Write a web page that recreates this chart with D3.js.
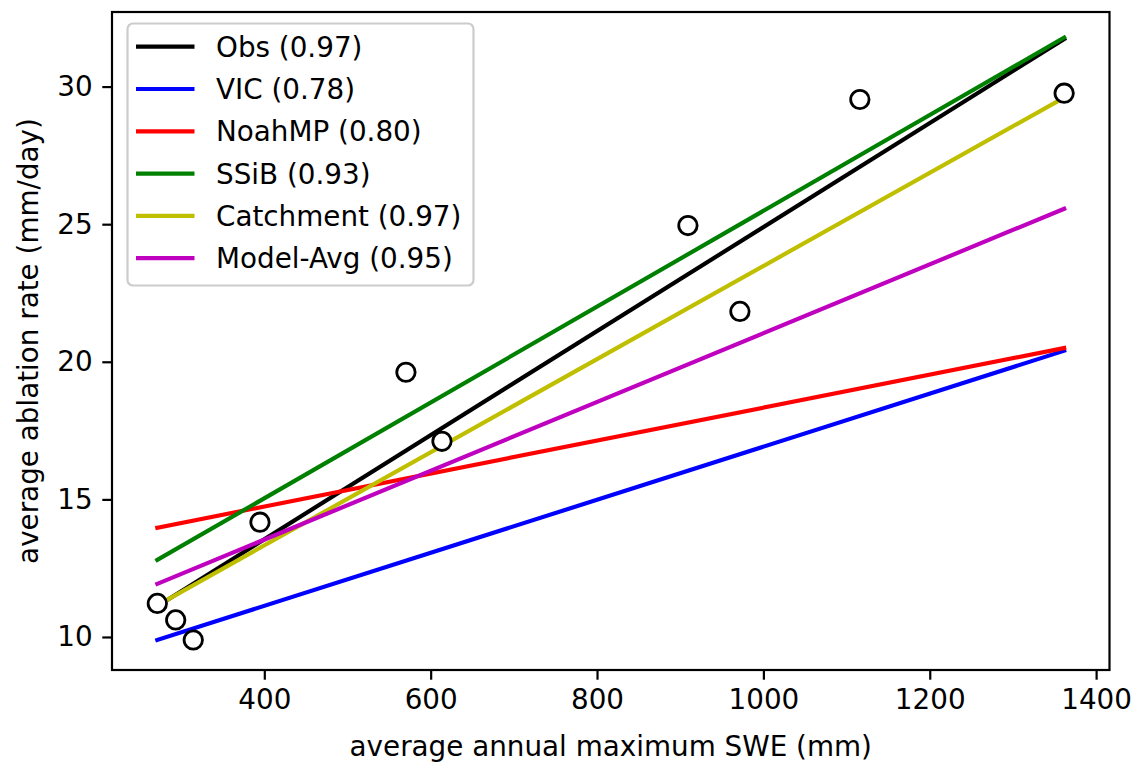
<!DOCTYPE html>
<html>
<head>
<meta charset="utf-8">
<script src="https://cdn.jsdelivr.net/npm/d3@7"></script>
<style>
  html, body { margin: 0; padding: 0; background: #fff; }
  svg { display: block; font-family: "DejaVu Sans", sans-serif; }
</style>
</head>
<body>
<svg id="chart" width="1136" height="768"></svg>
<script>
// ---- data ----
const swe = [271.4, 293.5, 314.6, 394.8, 570.3, 613.6, 909.3, 971.8, 1116, 1361.6];
const ablation = [11.22, 10.62, 9.89, 14.17, 19.62, 17.11, 24.95, 21.83, 29.53, 29.76];

const seriesNames = ["Obs (0.97)", "VIC (0.78)", "NoahMP (0.80)", "SSiB (0.93)", "Catchment (0.97)", "Model-Avg (0.95)"];
const seriesColors = ["#000000", "#0000ff", "#ff0000", "#008000", "#bfbf00", "#bf00bf"];
const lineX = [271.4, 1361.6];
const lineStartY = [11.12, 9.89, 13.97, 12.80, 11.15, 11.93];
const lineEndY   = [31.73, 20.40, 20.50, 31.78, 29.60, 25.56];

const xTicks = [400, 600, 800, 1000, 1200, 1400];
const yTicks = [10, 15, 20, 25, 30];
const xDomain = [216.9, 1416.1];
const yDomain = [8.80, 32.71];

// ---- layout ----
const svg = d3.select("#chart");
const L = 112, R = 1109.5, T = 12, B = 670;
const fs = 27.8;

const x = d3.scaleLinear().domain(xDomain).range([L, R]);
const y = d3.scaleLinear().domain(yDomain).range([B, T]);

// clip
svg.append("defs").append("clipPath").attr("id", "clip")
  .append("rect").attr("x", L).attr("y", T).attr("width", R - L).attr("height", B - T);

const plot = svg.append("g").attr("clip-path", "url(#clip)");

// regression lines
seriesNames.forEach((name, i) => {
  const pts = [[lineX[0], lineStartY[i]], [lineX[1], lineEndY[i]]];
  plot.append("path")
    .attr("d", d3.line().x(d => x(d[0])).y(d => y(d[1]))(pts))
    .attr("fill", "none")
    .attr("stroke", seriesColors[i])
    .attr("stroke-width", 4.17)
    .attr("stroke-linecap", "square");
});

// scatter points
plot.selectAll("circle.pt").data(swe.map((v, i) => [v, ablation[i]]))
  .enter().append("circle")
  .attr("class", "pt")
  .attr("cx", d => x(d[0]))
  .attr("cy", d => y(d[1]))
  .attr("r", 9.2)
  .attr("fill", "#fff")
  .attr("stroke", "#000")
  .attr("stroke-width", 2.8);

// axes
const xAxis = d3.axisBottom(x).tickValues(xTicks).tickSize(9.7).tickPadding(9.7).tickFormat(d3.format("d"));
const yAxis = d3.axisLeft(y).tickValues(yTicks).tickSize(9.7).tickPadding(9.7).tickFormat(d3.format("d"));

const gx = svg.append("g").attr("transform", `translate(0,${B})`).call(xAxis);
const gy = svg.append("g").attr("transform", `translate(${L},0)`).call(yAxis);
[gx, gy].forEach(g => {
  g.select(".domain").remove();
  g.selectAll(".tick line").attr("stroke", "#000").attr("stroke-width", 2.2);
  g.selectAll(".tick text").attr("fill", "#000").style("font-size", fs + "px").style("font-family", "DejaVu Sans");
});

// frame
svg.append("rect").attr("x", L).attr("y", T).attr("width", R - L).attr("height", B - T)
  .attr("fill", "none").attr("stroke", "#000").attr("stroke-width", 2.2);

// axis labels
svg.append("text")
  .attr("x", (L + R) / 2).attr("y", 756)
  .attr("text-anchor", "middle")
  .style("font-size", fs + "px")
  .text("average annual maximum SWE (mm)");

svg.append("text")
  .attr("transform", `translate(38,${(T + B) / 2}) rotate(-90)`)
  .attr("text-anchor", "middle")
  .style("font-size", fs + "px")
  .text("average ablation rate (mm/day)");

// legend
const lg = svg.append("g");
lg.append("rect")
  .attr("x", 127.5).attr("y", 23.5).attr("width", 346).attr("height", 262)
  .attr("rx", 5.5).attr("ry", 5.5)
  .attr("fill", "#fff").attr("fill-opacity", 0.8)
  .attr("stroke", "#cccccc").attr("stroke-width", 2.2);

seriesNames.forEach((name, i) => {
  const cy = 46.7 + i * 42.3;
  lg.append("line")
    .attr("x1", 136).attr("x2", 194.5).attr("y1", cy).attr("y2", cy)
    .attr("stroke", seriesColors[i]).attr("stroke-width", 4.17);
  lg.append("text")
    .attr("x", 216).attr("y", cy)
    .attr("dy", "0.36em")
    .style("font-size", fs + "px")
    .text(name);
});
</script>
</body>
</html>
